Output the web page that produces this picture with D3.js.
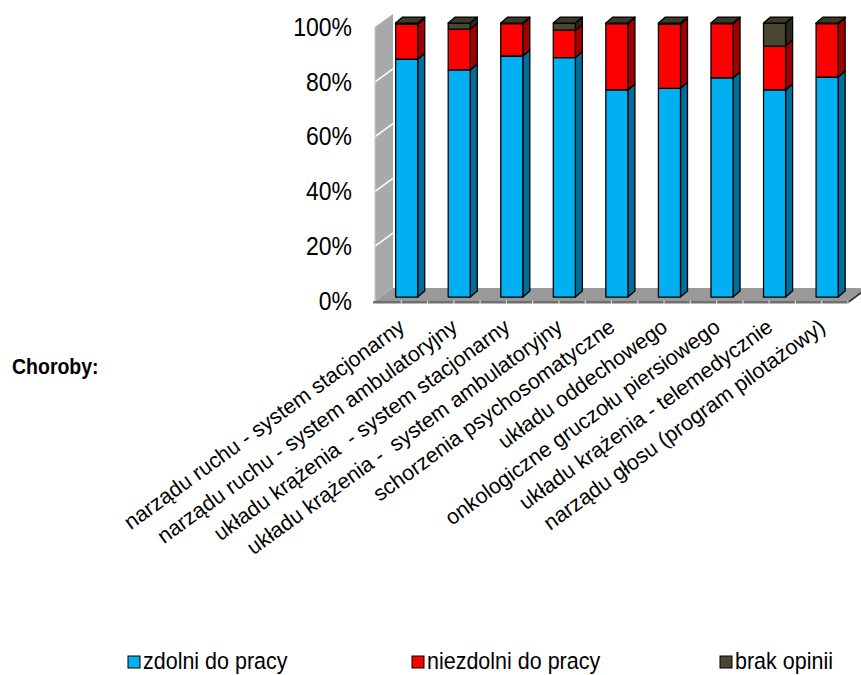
<!DOCTYPE html>
<html>
<head>
<meta charset="utf-8">
<script src="https://cdn.jsdelivr.net/npm/d3@7"></script>
<style>
  html, body { margin: 0; padding: 0; background: #fff; }
  svg { display: block; font-family: "Liberation Sans", Arial, sans-serif; }
</style>
</head>
<body>
<svg id="chart" width="861" height="675"></svg>
<script>
// Categories (disease groups) and the share of each opinion, in percent
const categories = [
  "narządu ruchu - system stacjonarny",
  "narządu ruchu - system ambulatoryjny",
  "układu krążenia  - system stacjonarny",
  "układu krążenia -  system ambulatoryjny",
  "schorzenia psychosomatyczne",
  "układu oddechowego",
  "onkologiczne gruczołu piersiowego",
  "układu krążenia - telemedycznie",
  "narządu głosu (program pilotażowy)"
];
const zdolni    = [86.8, 82.9, 88.0, 87.4, 75.6, 76.2, 80.0, 75.6, 80.3];
const niezdolni = [12.8, 14.9, 11.8, 10.0, 24.2, 23.4, 19.8, 16.0, 19.5];
const brak      = [ 0.4,  2.2,  0.2,  2.6,  0.2,  0.4,  0.2,  8.4,  0.2];

const seriesNames = ["zdolni do pracy", "niezdolni do pracy", "brak opinii"];
const seriesKeys  = ["zdolni", "niezdolni", "brak"];
const yTicks = [0, 20, 40, 60, 80, 100];

const colors = {
  zdolni:    { front: "#00b0f0", side: "#006f9c", top: "#2cc0f4" },
  niezdolni: { front: "#ff0000", side: "#a50000", top: "#ff3030" },
  brak:      { front: "#4b4632", side: "#2c291c", top: "#3d3a28" }
};

const rows = categories.map((c, i) => ({
  cat: c, zdolni: zdolni[i], niezdolni: niezdolni[i], brak: brak[i]
}));

const svg = d3.select("#chart");

// Upright text is drawn slightly taller than wide
const SY = 1.12;

// Front plane of the 3D plot box
const X0 = 375, X1 = 848;
const depth = { x: 18, y: -13 };        // wall / floor depth
const barShift = { x: 5.4, y: -3.9 };   // bars stand a little behind the front edge
const barDepth = { x: 7, y: -6 };       // thickness of each column

const x = d3.scaleBand().domain(categories).range([X0, X1])
  .paddingInner(0.58).paddingOuter(0.29);
const y = d3.scaleLinear().domain([0, 100]).range([301, 27]);

const pts = a => a.map(p => p.join(",")).join(" ");

// Left side wall with white gridlines
const gWall = svg.append("g");
gWall.append("polygon")
  .attr("points", pts([[X0, y(0)], [X0, y(100)], [X0 + depth.x, y(100) + depth.y], [X0 + depth.x, y(0) + depth.y]]))
  .attr("fill", "#a9a9a9");
gWall.selectAll("line.grid").data(yTicks.filter(v => v > 0 && v < 100)).join("line")
  .attr("x1", X0).attr("y1", d => y(d))
  .attr("x2", X0 + depth.x).attr("y2", d => y(d) + depth.y)
  .attr("stroke", "#fff").attr("stroke-width", 1.5);
gWall.append("line")
  .attr("x1", X0).attr("y1", y(100)).attr("x2", X0).attr("y2", y(0))
  .attr("stroke", "#c8c8c8").attr("stroke-width", 1);

// Floor
const gFloor = svg.append("g");
gFloor.append("polygon")
  .attr("points", pts([[X0, y(0)], [X1, y(0)], [X1 + depth.x, y(0) + depth.y], [X0 + depth.x, y(0) + depth.y]]))
  .attr("fill", "#999999");
gFloor.append("polygon")
  .attr("points", pts([[X0 - 2, y(0)], [X1, y(0)], [X1, y(0) + 2.5], [X0 - 2, y(0) + 2.5]]))
  .attr("fill", "#6f6f6f");
gFloor.append("polygon")
  .attr("points", pts([[X1, y(0)], [X1 + depth.x, y(0) + depth.y], [X1 + depth.x, y(0) + depth.y + 2.5], [X1, y(0) + 2.5]]))
  .attr("fill", "#3a3a3a");
// tick marks along the floor's front edge, at every half category
const step = x.step();
const tickXs = d3.range(0, categories.length * 2).map(k => X0 + step / 2 + k * step / 2).filter(v => v <= X1 + 0.5);
gFloor.selectAll("line.tick").data(tickXs).join("line")
  .attr("x1", d => d).attr("x2", d => d)
  .attr("y1", y(0) - 0.5).attr("y2", y(0) + 3)
  .attr("stroke", "#d9d9d9").attr("stroke-width", 1.2);

// Stacked 3D columns
const stack = d3.stack().keys(seriesKeys)(rows);
const gBars = svg.append("g").attr("stroke", "#000").attr("stroke-width", 1.3).attr("stroke-linejoin", "round");
stack.forEach((layer, li) => {
  const key = layer.key;
  const isTop = li === stack.length - 1;
  layer.forEach((seg, i) => {
    const cat = categories[i];
    const bx = x(cat) + barShift.x;
    const bw = x.bandwidth();
    const yTop = y(seg[1]) + barShift.y;
    const yBot = y(seg[0]) + barShift.y;
    const g = gBars.append("g");
    // side face
    g.append("polygon")
      .attr("points", pts([[bx + bw, yBot], [bx + bw, yTop], [bx + bw + barDepth.x, yTop + barDepth.y], [bx + bw + barDepth.x, yBot + barDepth.y]]))
      .attr("fill", colors[key].side);
    // front face
    g.append("rect")
      .attr("x", bx).attr("y", yTop)
      .attr("width", bw).attr("height", Math.max(0, yBot - yTop))
      .attr("fill", colors[key].front);
    if (isTop) {
      g.append("polygon")
        .attr("points", pts([[bx, yTop], [bx + barDepth.x, yTop + barDepth.y], [bx + bw + barDepth.x, yTop + barDepth.y], [bx + bw, yTop]]))
        .attr("fill", colors[key].top);
    }
  });
});

// Value axis labels
const yAxis = d3.axisLeft(y).tickValues(yTicks).tickFormat(d => d + "%").tickSize(0).tickPadding(23);
const gY = svg.append("g").attr("transform", `translate(${X0},0)`).call(yAxis);
gY.select(".domain").remove();
gY.selectAll("text")
  .attr("font-family", "'Liberation Sans', Arial, sans-serif")
  .attr("font-size", 23).attr("fill", "#000")
  .attr("transform", `scale(1,${SY})`);

// Category labels, rotated
const gX = svg.append("g");
gX.selectAll("text").data(categories).join("text")
  .attr("transform", d => `translate(${x(d) + x.bandwidth() / 2 + 5},330) rotate(-36)`)
  .attr("text-anchor", "end")
  .style("white-space", "pre")
  .attr("font-size", 21.5)
  .attr("fill", "#000")
  .text(d => d);

// Axis title
svg.append("text")
  .attr("transform", `translate(12,374) scale(1,${SY})`)
  .attr("font-size", 19.5).attr("font-weight", "bold")
  .text("Choroby:");

// Legend
const legendX = [128, 412, 720];
const gLeg = svg.append("g");
seriesKeys.forEach((k, i) => {
  gLeg.append("rect")
    .attr("x", legendX[i]).attr("y", 656).attr("width", 12).attr("height", 12)
    .attr("fill", colors[k].front).attr("stroke", "#000").attr("stroke-width", 1);
  gLeg.append("text")
    .attr("transform", `translate(${legendX[i] + 15},669) scale(1,${SY})`)
    .attr("font-size", 21.5).attr("fill", "#000")
    .text(seriesNames[i]);
});
</script>
</body>
</html>
